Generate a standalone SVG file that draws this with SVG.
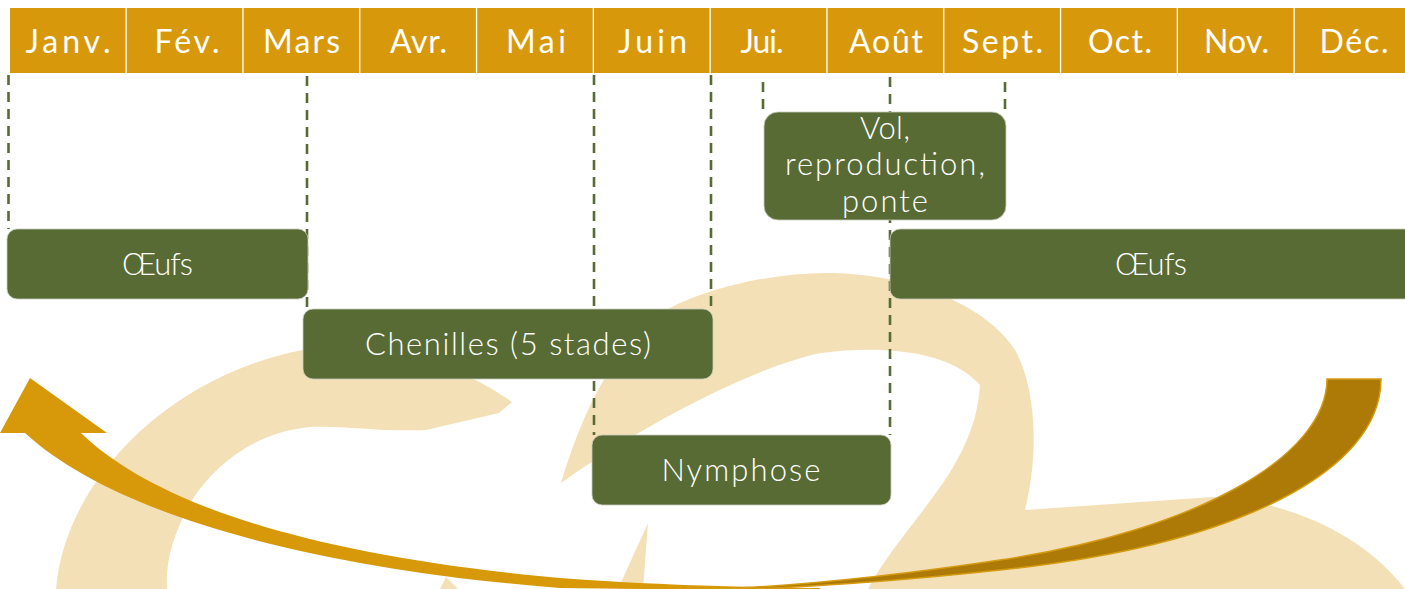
<svg xmlns="http://www.w3.org/2000/svg" width="1405" height="589" viewBox="0 0 1405 589">
<style>
.cell{fill:#D7990B}
.mt{font-family:Lato,"Noto Sans",sans-serif;font-size:32px;fill:#fff;text-anchor:middle}
.box{fill:#586B34;stroke:#C9CCBE;stroke-width:0.8}
.bt{font-family:Lato,"Noto Sans",sans-serif;font-weight:300;font-size:31px;fill:#fff;text-anchor:middle}
.dash{stroke:#586B34;stroke-width:2.6;stroke-dasharray:10 7;fill:none}
.beige{fill:#F3E0B7}
</style>
<rect width="1405" height="589" fill="#fff"/>
<g id="background">
<path class="beige" d="M56,589 C65,480 170,375 303,350 C380,338 460,365 512,402 L499,413 L426,430 C380,432 340,425 310,427 C255,432 215,465 192,500 C175,530 165,560 167,589 Z"/>
<path class="beige" d="M561,483 C580,420 610,350 661,313 C700,290 770,272 832,273 C920,275 990,310 1015,350 C1035,385 1040,450 1025,510 L1213,497 C1280,500 1360,530 1405,589 L868,589 C905,520 975,470 980,385 C950,350 880,345 821,353 C760,365 650,420 561,483 Z"/>
<path class="beige" d="M648,523 L643,589 L618,589 Z"/>
<path class="beige" d="M446,577 L458,589 L440,589 Z"/>
</g>
<g id="cycle-arrow">
<path fill="#D7990A" d="M25,433 L0,433 L30,378 L107,433 L81,433 C150,500 300,555 560,578 C640,584 720,587 820,588 L820,590 C720,590 640,589 560,588 C330,570 120,520 25,433 Z"/>
<path fill="#AD7907" stroke="#D49B12" stroke-width="1.5" d="M1327,379 L1381,379 C1381,470 1240,545 1000,570 C880,583 790,588 720,590 L720,589 C790,586 880,578 1000,560 C1200,530 1327,455 1327,379 Z"/>
</g>
<g id="connectors">
<line class="dash" x1="8.5" y1="75" x2="8.5" y2="229"/>
<line class="dash" x1="307" y1="76" x2="307" y2="309"/>
<line class="dash" x1="594" y1="75" x2="594" y2="435"/>
<line class="dash" x1="711" y1="75" x2="711" y2="309"/>
<line class="dash" x1="763" y1="82" x2="763" y2="112"/>
<line class="dash" x1="890" y1="77" x2="890" y2="435"/>
<line class="dash" x1="1005" y1="82" x2="1005" y2="112"/>
</g>
<g id="months">
<g id="m-jan"><rect class="cell" x="10" y="8" width="115.5" height="65"/><text class="mt" x="68" y="53" textLength="85" lengthAdjust="spacing">Janv.</text></g>
<g id="m-feb"><rect class="cell" x="126.8" y="8" width="115.5" height="65"/><text class="mt" x="187" y="53" textLength="65" lengthAdjust="spacing">Fév.</text></g>
<g id="m-mar"><rect class="cell" x="243.6" y="8" width="115.5" height="65"/><text class="mt" x="301.5" y="53" textLength="77" lengthAdjust="spacing">Mars</text></g>
<g id="m-apr"><rect class="cell" x="360.4" y="8" width="115.5" height="65"/><text class="mt" x="418.5" y="53" textLength="57" lengthAdjust="spacing">Avr.</text></g>
<g id="m-may"><rect class="cell" x="477.2" y="8" width="115.5" height="65"/><text class="mt" x="536" y="53" textLength="60" lengthAdjust="spacing">Mai</text></g>
<g id="m-jun"><rect class="cell" x="594" y="8" width="115.5" height="65"/><text class="mt" x="652.5" y="53" textLength="69" lengthAdjust="spacing">Juin</text></g>
<g id="m-jul"><rect class="cell" x="710.8" y="8" width="115.5" height="65"/><text class="mt" x="762" y="53" textLength="43" lengthAdjust="spacing">Jui.</text></g>
<g id="m-aug"><rect class="cell" x="827.6" y="8" width="115.5" height="65"/><text class="mt" x="886" y="53" textLength="74" lengthAdjust="spacing">Août</text></g>
<g id="m-sep"><rect class="cell" x="944.4" y="8" width="115.5" height="65"/><text class="mt" x="1002.5" y="53" textLength="81" lengthAdjust="spacing">Sept.</text></g>
<g id="m-oct"><rect class="cell" x="1061.2" y="8" width="115.5" height="65"/><text class="mt" x="1120" y="53" textLength="64" lengthAdjust="spacing">Oct.</text></g>
<g id="m-nov"><rect class="cell" x="1178" y="8" width="115.5" height="65"/><text class="mt" x="1236.5" y="53" textLength="65" lengthAdjust="spacing">Nov.</text></g>
<g id="m-dec"><rect class="cell" x="1294.8" y="8" width="120" height="65"/><text class="mt" x="1354" y="53" textLength="69" lengthAdjust="spacing">Déc.</text></g>
</g>
<g id="oeufs-1"><rect class="box" x="7" y="229" width="301" height="70" rx="10"/><text class="bt" x="157.5" y="275" textLength="71" lengthAdjust="spacing">Œufs</text></g>
<g id="chenilles"><rect class="box" x="303" y="309" width="410" height="70" rx="10"/><text class="bt" x="508" y="355" textLength="286" lengthAdjust="spacing">Chenilles (5 stades)</text></g>
<g id="nymphose"><rect class="box" x="592" y="435" width="299" height="70" rx="10"/><text class="bt" x="741" y="481" textLength="159" lengthAdjust="spacing">Nymphose</text></g>
<g id="vol"><rect class="box" x="764" y="112" width="242" height="108" rx="14"/><text class="bt" x="885" y="139" textLength="50" lengthAdjust="spacing">Vol,</text><text class="bt" x="885" y="175" textLength="200" lengthAdjust="spacing">reproduction,</text><text class="bt" x="885" y="212" textLength="86" lengthAdjust="spacing">ponte</text></g>
<g id="oeufs-2"><rect class="box" x="890" y="229" width="530" height="70" rx="10"/><text class="bt" x="1151" y="275" textLength="72" lengthAdjust="spacing">Œufs</text></g>
</svg>
